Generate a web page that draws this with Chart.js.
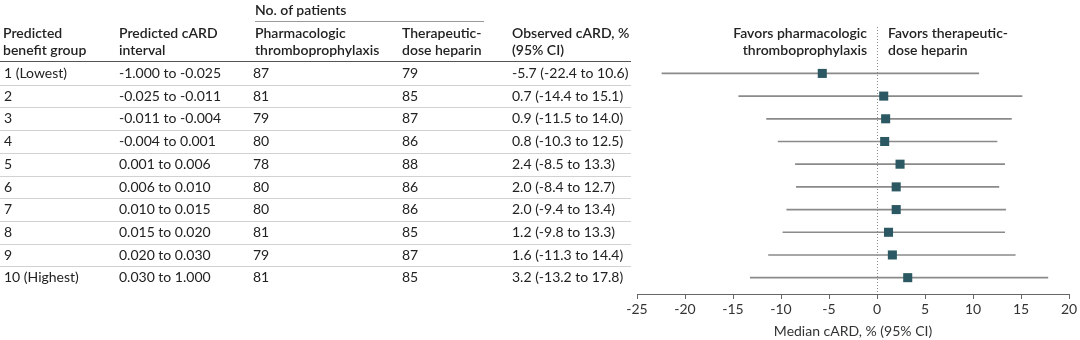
<!DOCTYPE html>
<html>
<head>
<meta charset="utf-8">
<script src="https://cdn.jsdelivr.net/npm/chart.js@4"></script>
<style>
  body { margin: 0; background: #fff; }
  #wrap { position: relative; width: 1080px; height: 340px; font-family: Lato, sans-serif; font-size: 14px; color: #222; }
  #chart { position: absolute; left: 0; top: 0; }
  .t { position: absolute; white-space: nowrap; }
  .h { font-family: "Lato Semibold", "Lato Medium", Lato, sans-serif; font-weight: 600; line-height: 17px; }
  .r { line-height: 22.7px; height: 22.7px; }
  .ln { position: absolute; height: 0; border-top: 1px solid #d2d2d2; }
</style>
</head>
<body>
<div id="wrap">
  <canvas id="chart" width="1080" height="340"></canvas>
</div>
<script>
// --- données ---
const groups = ['1 (Lowest)', '2', '3', '4', '5', '6', '7', '8', '9', '10 (Highest)'];
const cardIntervals = ['-1.000 to -0.025', '-0.025 to -0.011', '-0.011 to -0.004', '-0.004 to 0.001', '0.001 to 0.006',
  '0.006 to 0.010', '0.010 to 0.015', '0.015 to 0.020', '0.020 to 0.030', '0.030 to 1.000'];
const nPharmaco = [87, 81, 79, 80, 78, 80, 80, 81, 79, 81];
const nTherapeutic = [79, 85, 87, 86, 88, 86, 86, 85, 87, 85];
const observedCard = [-5.7, 0.7, 0.9, 0.8, 2.4, 2.0, 2.0, 1.2, 1.6, 3.2];
const ciLow = [-22.4, -14.4, -11.5, -10.3, -8.5, -8.4, -9.4, -9.8, -11.3, -13.2];
const ciHigh = [10.6, 15.1, 14.0, 12.5, 13.3, 12.7, 13.4, 13.3, 14.4, 17.8];
const xMin = -25, xMax = 20, xStep = 5;

const wrap = document.getElementById('wrap');
const ROW_TOP = 62, ROW_H = 22.7;

function addText(html, left, top, cls, extra) {
  const d = document.createElement('div');
  d.className = 't ' + cls;
  d.innerHTML = html;
  d.style.left = left + 'px';
  d.style.top = top + 'px';
  if (extra) Object.assign(d.style, extra);
  wrap.appendChild(d);
  return d;
}
function addLine(x1, x2, y, style) {
  const d = document.createElement('div');
  d.className = 'ln';
  d.style.left = x1 + 'px';
  d.style.width = (x2 - x1) + 'px';
  d.style.top = y + 'px';
  if (style) d.style.borderTop = style;
  wrap.appendChild(d);
}

// === en-têtes du tableau ===
addText('No. of patients', 255, 1, 'h');
addLine(255, 484, 21, '1px solid #999');
addText('Predicted<br>benefit group', 3, 24, 'h');
addText('Predicted cARD<br>interval', 119, 24, 'h');
addText('Pharmacologic<br>thromboprophylaxis', 255, 24, 'h');
addText('Therapeutic-<br>dose heparin', 402, 24, 'h');
addText('Observed cARD, %<br>(95% CI)', 512, 24, 'h');
addText('Favors pharmacologic<br>thromboprophylaxis', 0, 24, 'h', { left: 'auto', right: (1080 - 867) + 'px', textAlign: 'right' });
addText('Favors therapeutic-<br>dose heparin', 888, 24, 'h');
addLine(0, 631, 61, '1.5px solid #555');

// === lignes du tableau ===
groups.forEach((g, i) => {
  const top = ROW_TOP + i * ROW_H;
  addText(g, 4, top, 'r');
  addText(cardIntervals[i], 119, top, 'r');
  addText(String(nPharmaco[i]), 253, top, 'r');
  addText(String(nTherapeutic[i]), 402, top, 'r');
  addText(`${observedCard[i].toFixed(1)} (${ciLow[i].toFixed(1)} to ${ciHigh[i].toFixed(1)})`, 512, top, 'r');
  if (i > 0) addLine(0, 631, top);
});

// === forest plot ===
new Chart(document.getElementById('chart'), {
  type: 'bar',
  data: {
    datasets: [{
      // intervalles de confiance (barres flottantes fines)
      type: 'bar',
      indexAxis: 'y',
      data: groups.map((g, i) => ({ x: [ciLow[i], ciHigh[i]], y: i + 1 })),
      backgroundColor: '#8a8a8a',
      borderWidth: 0,
      barThickness: 1,
      order: 2
    }, {
      type: 'scatter',
      data: groups.map((g, i) => ({ x: observedCard[i], y: i + 1 })),
      pointStyle: 'rect',
      pointRadius: 6.4,
      backgroundColor: '#2b5862',
      borderWidth: 0,
      order: 1
    }]
  },
  options: {
    responsive: false,
    animation: false,
    indexAxis: 'y',
    layout: { padding: { left: 637, right: 11, top: 27, bottom: 0 } },
    plugins: { legend: { display: false }, tooltip: { enabled: false } },
    scales: {
      y: { type: 'linear', reverse: true, offset: false, min: -1.045, max: 10.72, display: false },
      x: {
        type: 'linear', position: 'bottom', min: xMin, max: xMax,
        ticks: { stepSize: xStep, color: '#333', padding: 2, font: { family: 'Lato', size: 14 } },
        grid: {
          drawOnChartArea: true,
          color: c => (c.tick && c.tick.value === 0) ? '#8a8a8a' : 'rgba(0,0,0,0)',
          tickColor: '#666',
          tickLength: 5,
          tickBorderDash: []
        },
        border: { color: '#666', dash: [1, 2] },
        title: { display: true, text: 'Median cARD, % (95% CI)', color: '#333', font: { family: 'Lato', size: 14 }, padding: 0 },
        afterFit: s => { s.height = 46; }
      }
    }
  }
});
</script>
</body>
</html>
